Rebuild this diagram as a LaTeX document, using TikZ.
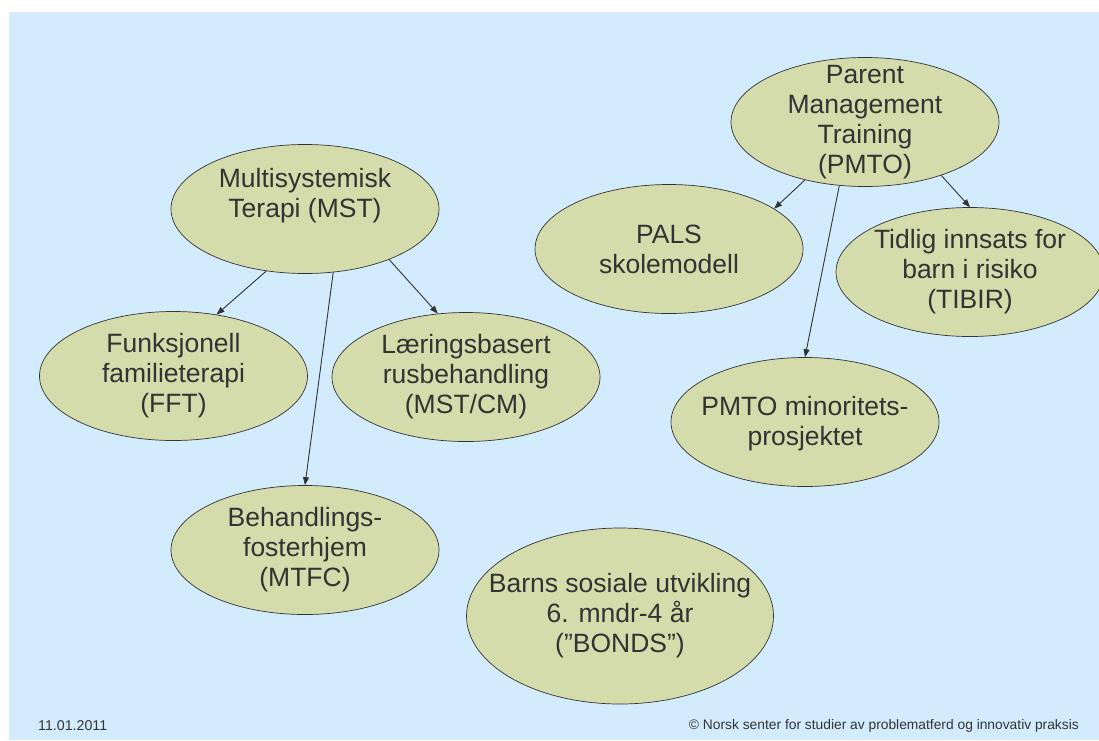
\documentclass[tikz,border=0pt]{standalone}
\usepackage{fontspec}
\setmainfont{Liberation Sans}
\usetikzlibrary{shapes.geometric,arrows.meta}
\definecolor{bgblue}{RGB}{210,236,253}
\definecolor{sage}{RGB}{213,220,172}
\definecolor{ink}{RGB}{51,51,51}
\tikzset{
  ell/.style={ellipse, draw=ink, line width=0.7pt, fill=sage, minimum width=268pt, minimum height=129pt, inner sep=0pt},
  bigell/.style={ell, minimum width=307pt, minimum height=176pt},
  txt/.style={align=center, text=ink, inner sep=0pt, font=\fontsize{26.5}{30}\selectfont},
  conn/.style={draw=ink, line width=0.9pt, -{Triangle[length=8pt,width=6pt]}},
  foot/.style={text=ink, inner sep=0pt, font=\fontsize{14.2}{16}\selectfont},
  footsmall/.style={foot, font=\fontsize{13.8}{16}\selectfont}
}
\begin{document}
\begin{tikzpicture}[x=1pt,y=-1pt]
\useasboundingbox (0,0) rectangle (1099,740);
\fill[bgblue] (9,12) rectangle (1099,740);

% ellipses
\node[ell] (mst) at (305,209) {};
\node[ell] (fft) at (173.5,376) {};
\node[ell] (lrb) at (466,377) {};
\node[ell] (mtfc) at (305,550) {};
\node[bigell] (bonds) at (620,616) {};
\node[ell] (pmto) at (865,122) {};
\node[ell] (pals) at (669,249) {};
\node[ell] (tibir) at (970,272) {};
\node[ell] (mino) at (805,422) {};

% texts
\node[txt] (mstT) at (305,196) {Multisystemisk\\Terapi (MST)};
\node[txt] (fftT) at (fft) {Funksjonell\\familieterapi\\(FFT)};
\node[txt] (lrbT) at (lrb) {Læringsbasert\\rusbehandling\\(MST/CM)};
\node[txt] (mtfcT) at (mtfc) {Behandlings-\\fosterhjem\\(MTFC)};
\node[txt] (bondsT) at (bonds) {Barns sosiale utvikling\\6. mndr-4 år\\(”BONDS”)};
\node[txt] (pmtoT) at (pmto) {Parent\\Management\\Training\\(PMTO)};
\node[txt] (palsT) at (pals) {PALS\\skolemodell};
\node[txt] (tibirT) at (tibir) {Tidlig innsats for\\barn i risiko\\(TIBIR)};
\node[txt] (minoT) at (805,424) {PMTO minoritets-\\prosjektet};

% connectors
\draw[conn] (mst.238) -- (fft.55);
\draw[conn] (mst.294) -- (mtfc.north);
\draw[conn] (mst.329) -- (lrb.114);
\draw[conn] (pmto.224) -- (pals.21);
\draw[conn] (pmto.325.5) -- (tibir.north);
\draw[conn] (pmto.248.4) -- (mino.north);

% footer
\node[foot, anchor=west] (date) at (38,726) {11.01.2011};
\node[footsmall, anchor=east] (copy) at (1079,726) {© Norsk senter for studier av problematferd og innovativ praksis};
\end{tikzpicture}
\end{document}
